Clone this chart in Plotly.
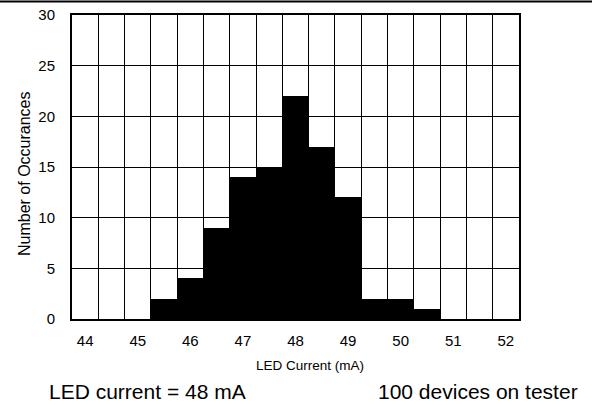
import plotly.graph_objects as go

bin_centers = [44, 44.5, 45, 45.5, 46, 46.5, 47, 47.5, 48, 48.5, 49, 49.5, 50, 50.5, 51, 51.5, 52]
counts = [0, 0, 0, 2, 4, 9, 14, 15, 22, 17, 12, 2, 2, 1, 0, 0, 0]
x_ticks = [44, 45, 46, 47, 48, 49, 50, 51, 52]
y_ticks = [0, 5, 10, 15, 20, 25, 30]
x_title = "LED Current (mA)"
y_title = "Number of Occurances"

FONT = "Liberation Sans, Arial, sans-serif"

fig = go.Figure(go.Bar(
    x=bin_centers, y=counts, width=0.5,
    marker=dict(color="black", line=dict(width=0)),
))

W, H = 592, 405
L, R, T, B = 72, 73, 15, 86
pw, ph = W - L - R, H - T - B


def px_x(px):
    return (px - L) / pw


def px_y(py):
    return 1 - (py - T) / ph


fig.update_layout(
    width=W, height=H,
    margin=dict(l=L, r=R, t=T, b=B),
    paper_bgcolor="white", plot_bgcolor="white",
    showlegend=False,
    bargap=0,
    font=dict(family=FONT, color="black", size=15),
    xaxis=dict(
        range=[43.75, 52.25],
        tickmode="array", tickvals=x_ticks,
        showgrid=False, zeroline=False, automargin=False,
        showline=True, mirror=True, linecolor="black", linewidth=2,
        ticks="outside", ticklen=7, tickcolor="rgba(0,0,0,0)",
        tickfont=dict(size=15),
        minor=dict(tick0=44.25, dtick=0.5, showgrid=True, gridcolor="black", gridwidth=1, ticks=""),
    ),
    yaxis=dict(
        range=[0, 30],
        tickmode="array", tickvals=y_ticks,
        showgrid=True, gridcolor="black", gridwidth=1,
        zeroline=False, automargin=False,
        showline=True, mirror=True, linecolor="black", linewidth=2,
        ticks="outside", ticklen=12, tickcolor="rgba(0,0,0,0)",
        tickfont=dict(size=15),
    ),
    shapes=[dict(
        type="line", xref="paper", yref="paper",
        x0=px_x(0), x1=px_x(W),
        y0=px_y(1.5), y1=px_y(1.5),
        line=dict(color="black", width=2),
    )],
    annotations=[
        dict(text=x_title, xref="paper", yref="paper",
             x=px_x(310), y=px_y(365), xanchor="center", yanchor="middle",
             showarrow=False, font=dict(size=13.5)),
        dict(text=y_title, xref="paper", yref="paper", textangle=-90,
             x=px_x(24), y=px_y(174), xanchor="center", yanchor="middle",
             showarrow=False, font=dict(size=16)),
        dict(text="LED current = 48 mA", xref="paper", yref="paper",
             x=px_x(47), y=px_y(391), xanchor="left", yanchor="middle",
             showarrow=False, font=dict(size=21)),
        dict(text="100 devices on tester", xref="paper", yref="paper",
             x=px_x(580), y=px_y(391), xanchor="right", yanchor="middle",
             showarrow=False, font=dict(size=21)),
    ],
)

post = (
    "document.body.style.margin='0';document.body.style.padding='0';"
    "var d=document.getElementById('{plot_id}');"
    "d.style.position='absolute';d.style.top='0px';d.style.left='0px';"
)
fig.write_html("out.html", config={"displayModeBar": False}, post_script=post)
